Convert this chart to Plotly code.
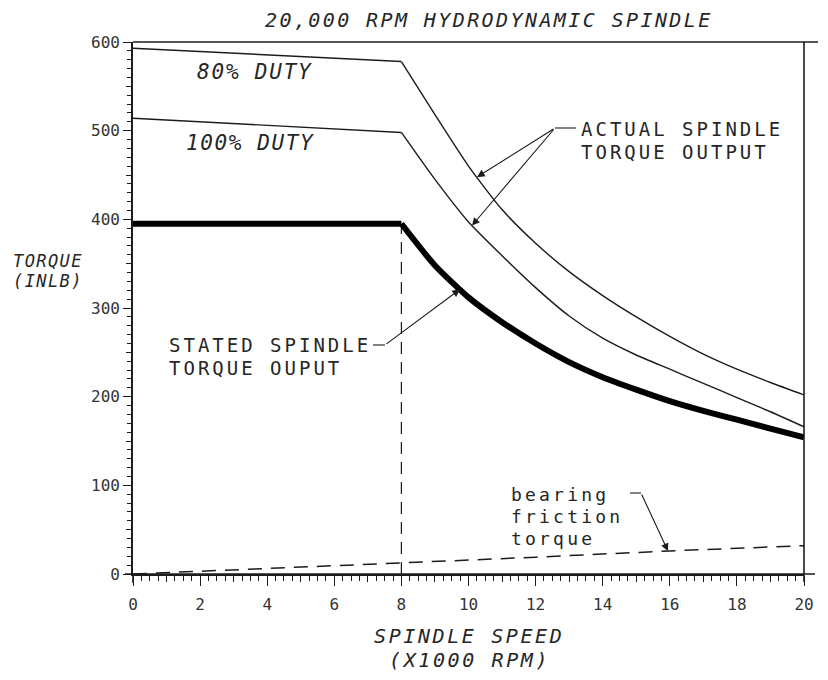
import numpy as np
import plotly.graph_objects as go

# ---------------- data ----------------
speed_80 = [0, 8, 9, 10, 11, 12, 13, 14, 15, 16, 17, 18, 19, 20]
torque_80 = [593, 578, 518, 460, 411, 373, 341, 314, 290, 268, 248, 231, 216, 202]

speed_100 = [0, 8, 9, 10, 11, 12, 13, 14, 15, 16, 17, 18, 19, 20]
torque_100 = [514, 498, 445, 397, 359, 323, 291, 266, 247, 231, 215, 199, 183, 166]

speed_stated = [0, 8, 9, 10, 11, 12, 13, 14, 15, 16, 17, 18, 19, 20]
torque_stated = [395, 395, 348, 312, 284, 260, 239, 222, 208, 195, 184, 174, 164, 154]

speed_friction = [0, 4, 8, 12, 16, 20]
torque_friction = [0, 6, 12.5, 19, 26, 32]

x_ticks = [0, 2, 4, 6, 8, 10, 12, 14, 16, 18, 20]
y_ticks = [0, 100, 200, 300, 400, 500, 600]

title_text = "20,000 RPM HYDRODYNAMIC SPINDLE"
# ---------------------------------------------------------------

OFF = 8                      # browser body margin around the plot div
W, H = 828, 680
PL, PR, PT, PB = 133, 804, 42, 574   # plot area in page pixels
L, T = PL - OFF, PT - OFF
R, B = (OFF + W) - PR, (OFF + H) - PB
X0, X1 = 0, 20
Y0, Y1 = 0, 600
pw, ph = PR - PL, PB - PT


def px2x(px):
    return X0 + (px - PL) / pw * (X1 - X0)


def px2y(py):
    return Y0 + (PB - py) / ph * (Y1 - Y0)


def px2paper_x(px):
    return (px - PL) / pw


def px2paper_y(py):
    return (PB - py) / ph


INK = "#1c1c1c"
TXT = "#262626"
MONO = "DejaVu Sans Mono"

fig = go.Figure()

knee_i = 1
knee_x = speed_stated[knee_i]
knee_y = torque_stated[knee_i]

fig.add_trace(go.Scatter(x=[knee_x, knee_x], y=[0, knee_y], mode="lines",
                         line=dict(color=INK, width=1.2, dash="12px,8px"),
                         hoverinfo="skip", showlegend=False))
fig.add_trace(go.Scatter(x=speed_friction, y=torque_friction, mode="lines",
                         line=dict(color=INK, width=1.5, dash="14px,9px"),
                         hoverinfo="skip", showlegend=False))


def curve(xs, ys, width, color):
    # flat part (straight) up to the knee, smooth curve after it
    fig.add_trace(go.Scatter(x=xs[:knee_i + 1], y=ys[:knee_i + 1], mode="lines",
                             line=dict(color=color, width=width), showlegend=False))
    fig.add_trace(go.Scatter(x=xs[knee_i:], y=ys[knee_i:], mode="lines",
                             line=dict(color=color, width=width, shape="spline",
                                       smoothing=0.6), showlegend=False))


curve(speed_80, torque_80, 1.4, INK)
curve(speed_100, torque_100, 1.4, INK)
curve(speed_stated, torque_stated, 6, "#000000")

# empty trace so the overlay axes (intermediate ticks) are rendered
fig.add_trace(go.Scatter(x=[], y=[], xaxis="x2", yaxis="y2", showlegend=False))

tick_font = dict(family=MONO, size=16, color="#333333")

fig.update_layout(
    width=W, height=H,
    margin=dict(l=L, r=R, t=T, b=B, pad=0),
    paper_bgcolor="white", plot_bgcolor="white",
    showlegend=False,
    xaxis=dict(range=[X0, X1], tickvals=x_ticks, ticks="outside", ticklen=10,
               tickwidth=1.3, tickcolor=INK, tickfont=tick_font,
               ticklabelstandoff=5,
               showline=True, linecolor=INK, linewidth=1.6,
               showgrid=False, zeroline=False,
               minor=dict(dtick=0.25, ticks="outside", ticklen=5, tickwidth=1,
                          tickcolor=INK, showgrid=False)),
    yaxis=dict(range=[Y0, Y1], tickvals=y_ticks, ticks="outside", ticklen=8,
               tickwidth=1.3, tickcolor=INK, tickfont=tick_font,
               showline=True, linecolor=INK, linewidth=1.6,
               showgrid=False, zeroline=False,
               minor=dict(dtick=10, ticks="outside", ticklen=4, tickwidth=1,
                          tickcolor=INK, showgrid=False)),
    xaxis2=dict(range=[X0, X1], overlaying="x", anchor="y", side="bottom",
                tickvals=list(range(1, 20, 2)), ticks="outside", ticklen=7,
                tickwidth=1.1, tickcolor=INK, showticklabels=False,
                showgrid=False, zeroline=False, showline=False),
    yaxis2=dict(range=[Y0, Y1], overlaying="y", anchor="x", side="left",
                tickvals=list(range(50, 600, 100)), ticks="outside", ticklen=6,
                tickwidth=1.1, tickcolor=INK, showticklabels=False,
                showgrid=False, zeroline=False, showline=False),
)

# frame: top line (extends a little past the right edge), right line, axis extensions
fig.add_shape(type="line", xref="paper", yref="paper", x0=0, x1=px2paper_x(818), y0=1, y1=1,
              line=dict(color=INK, width=1.6))
fig.add_shape(type="line", xref="paper", yref="paper", x0=1, x1=1, y0=px2paper_y(582), y1=1,
              line=dict(color=INK, width=1.6))
fig.add_shape(type="line", xref="paper", yref="paper", x0=px2paper_x(125),
              x1=px2paper_x(815), y0=0, y1=0, line=dict(color=INK, width=1.6))
fig.add_shape(type="line", xref="paper", yref="paper", x0=0, x1=0, y0=px2paper_y(583), y1=0,
              line=dict(color=INK, width=1.6))


def text(s, px, py, size=19, spacing=3.0, italic=False, anchor="center"):
    fig.add_annotation(x=px2paper_x(px), y=px2paper_y(py), xref="paper", yref="paper",
                       text='<span style="letter-spacing:%.1fpx">%s</span>' % (spacing, s),
                       showarrow=False, xanchor=anchor, yanchor="middle",
                       font=dict(family=MONO, size=size, color=TXT,
                                 style="italic" if italic else "normal"))


# titles
text(title_text, 489, 20, size=20, spacing=2.4, italic=True)
text("SPINDLE SPEED", 469, 636, size=20, spacing=2.6, italic=True)
text("(X1000 RPM)", 469, 660, size=20, spacing=2.6, italic=True)
text("TORQUE", 11, 261, size=17, spacing=1.4, italic=True, anchor="left")
text("(INLB)", 11, 281, size=17, spacing=1.4, italic=True, anchor="left")

# curve labels
text("80% DUTY", 255, 72, size=21, spacing=1.8, italic=True)
text("100% DUTY", 250, 143, size=21, spacing=1.6, italic=True)

text("ACTUAL SPINDLE", 579, 129, anchor="left")
text("TORQUE OUTPUT", 579, 152, anchor="left")

text("STATED SPINDLE", 167, 345, anchor="left")
text("TORQUE OUPUT", 167, 368, anchor="left")

text("bearing", 509, 494, size=18, spacing=3.2, anchor="left")
text("friction", 509, 516, size=18, spacing=3.2, anchor="left")
text("torque", 509, 538, size=18, spacing=3.2, anchor="left")


def arrow(tx, ty, tail_px, tail_py):
    fig.add_annotation(x=tx, y=ty, xref="x", yref="y",
                       ax=px2x(tail_px), ay=px2y(tail_py), axref="x", ayref="y",
                       text="", showarrow=True, arrowhead=2, arrowsize=1.4,
                       arrowwidth=1.1, arrowcolor=INK, standoff=0)


def leader(px0, px1, py):
    fig.add_shape(type="line", xref="x", yref="y", x0=px2x(px0), x1=px2x(px1),
                  y0=px2y(py), y1=px2y(py), line=dict(color=INK, width=1.1))


# ACTUAL SPINDLE TORQUE OUTPUT -> both duty curves
a80_x = px2x(477)
a100_x = px2x(472)
arrow(a80_x, float(np.interp(a80_x, speed_80, torque_80)), 555, 128)
arrow(a100_x, float(np.interp(a100_x, speed_100, torque_100)), 555, 128)
leader(555, 576, 128)

# STATED SPINDLE TORQUE OUPUT -> thick curve
st_x = px2x(460)
arrow(st_x, float(np.interp(st_x, speed_stated, torque_stated)), 385, 345)
leader(373, 385, 345)

# bearing friction torque -> dashed curve
bf_x = px2x(668)
arrow(bf_x, float(np.interp(bf_x, speed_friction, torque_friction)), 641, 493)
leader(630, 641, 493)

fig.write_html("out.html")
